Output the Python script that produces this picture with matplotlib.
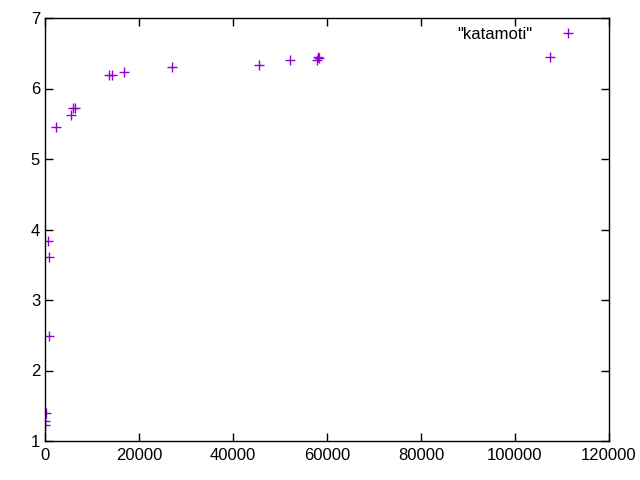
import matplotlib
matplotlib.use("Agg")
import matplotlib.pyplot as plt

x = [570, 850, 850, 280, 70, 70, 2400, 5600, 6030, 6450, 13600, 14200, 16900,
     27100, 45600, 52200, 57800, 58000, 58200, 107500]
y = [3.83, 3.61, 2.49, 1.40, 1.28, 1.23, 5.46, 5.63, 5.72, 5.72, 6.19, 6.19, 6.23,
     6.30, 6.33, 6.40, 6.41, 6.44, 6.43, 6.45]
label = '"katamoti"'
xticks = [0, 20000, 40000, 60000, 80000, 100000, 120000]
yticks = [1, 2, 3, 4, 5, 6, 7]

plt.rcParams['font.family'] = ['Liberation Sans', 'DejaVu Sans']
fig = plt.figure(figsize=(6.4, 4.8), dpi=100)
ax = fig.add_axes([45/640, 39/480, 564/640, 423/480])
ax.plot(x, y, linestyle='none', marker='+', color='#9400D3', markersize=6.5, mew=1, label=label)
ax.set_xlim(0, 120000)
ax.set_ylim(1, 7)
ax.set_xticks(xticks)
ax.set_yticks(yticks)
ax.tick_params(direction='in', top=True, right=True, length=6, labelsize=12, width=1)
ax.tick_params(axis='x', pad=5)
for s in ax.spines.values():
    s.set_linewidth(1)
leg = ax.legend(loc='upper right', frameon=False, markerfirst=False, fontsize=12,
                handlelength=2, handletextpad=1.15, borderaxespad=0,
                bbox_to_anchor=(0.9693, 0.9953))
fig.savefig('out.png', dpi=100)
